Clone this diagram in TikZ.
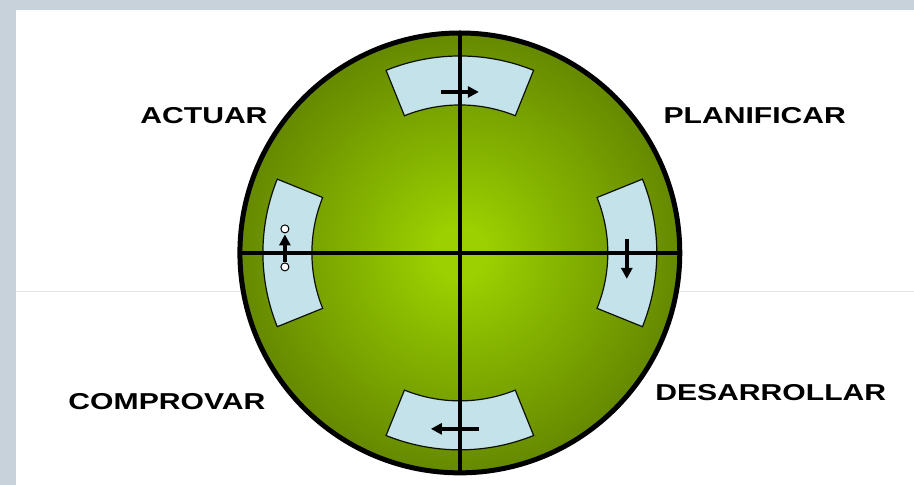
\documentclass[tikz,border=0pt]{standalone}
\usepackage{fontspec}
\setmainfont{Liberation Sans}
\usetikzlibrary{arrows.meta, calc}
\definecolor{limegreen}{RGB}{156,208,0}
\definecolor{midgreen}{RGB}{132,178,0}
\definecolor{olivegreen}{RGB}{104,140,0}
\definecolor{olivedark}{RGB}{76,102,0}
\definecolor{olivedeep}{RGB}{62,84,0}
\definecolor{paleblue}{RGB}{196,226,234}
\definecolor{frameblue}{RGB}{200,210,218}
\pgfdeclareradialshading{disc}{\pgfpointorigin}{color(0bp)=(limegreen); color(3bp)=(limegreen); color(12bp)=(midgreen); color(24bp)=(olivegreen); color(38bp)=(olivedark); color(50bp)=(olivedeep); color(100bp)=(olivedeep)}

\begin{document}
\begin{tikzpicture}[
        x=1pt, y=1pt,
        rim/.style={line width=5pt, black},
        axis/.style={line width=3.6pt, black},
        panel/.style={fill=paleblue, draw=black!85!olivedark, line width=1.2pt},
        flow/.style={-{Triangle[length=11pt, width=11pt]}, line width=3.4pt, black},
        handle/.style={circle, draw=black, fill=white, line width=1pt, inner sep=0pt, minimum size=8pt},
        stage/.style={font=\bfseries\fontsize{23}{23}\selectfont, xscale=1.31, inner sep=0pt}
    ]
        % Background
        \fill[frameblue] (0,0) rectangle (914,485);
        \fill[white] (16,0) rectangle (914,475);
        \draw[black!10, line width=0.6pt] (16,194) -- (914,194);

        % Wheel
        \coordinate (c) at (460,232);
        \shade[shading=disc] (c) circle[radius=220];
        \foreach \a in {0,90,180,270}
            \draw[panel] ($(c)+(\a-22:148)$) arc[start angle=\a-22, end angle=\a+22, radius=148]
                -- ($(c)+(\a+22:197)$) arc[start angle=\a+22, end angle=\a-22, radius=197] -- cycle;

        % Cross
        \coordinate (n) at ($(c)+(90:220)$);
        \coordinate (s) at ($(c)+(270:220)$);
        \coordinate (w) at ($(c)+(180:220)$);
        \coordinate (e) at ($(c)+(0:220)$);
        \draw[axis] (n) -- (s);
        \draw[axis] (w) -- (e);
        \draw[rim] (c) circle[radius=220];

        % Arrows
        \coordinate (top a) at (441,393);
        \coordinate (top b) at (479,393);
        \coordinate (right a) at (627,246);
        \coordinate (right b) at (627,206);
        \coordinate (bottom a) at (479,56);
        \coordinate (bottom b) at (431,56);
        \draw[flow] (top a) -- (top b);
        \draw[flow] (right a) -- (right b);
        \draw[flow] (bottom a) -- (bottom b);
        \node[handle] (left a) at (285,218) {};
        \node[handle] (left b) at (285,256) {};
        \draw[flow, shorten >=1pt] (left a) -- (left b);

        % Stages
        \node[stage] (actuar) at (204,369) {ACTUAR};
        \node[stage] (plan) at (755,369) {PLANIFICAR};
        \node[stage] (check) at (167,83) {COMPROVAR};
        \node[stage] (do) at (771,92) {DESARROLLAR};
    \end{tikzpicture}
\end{document}
